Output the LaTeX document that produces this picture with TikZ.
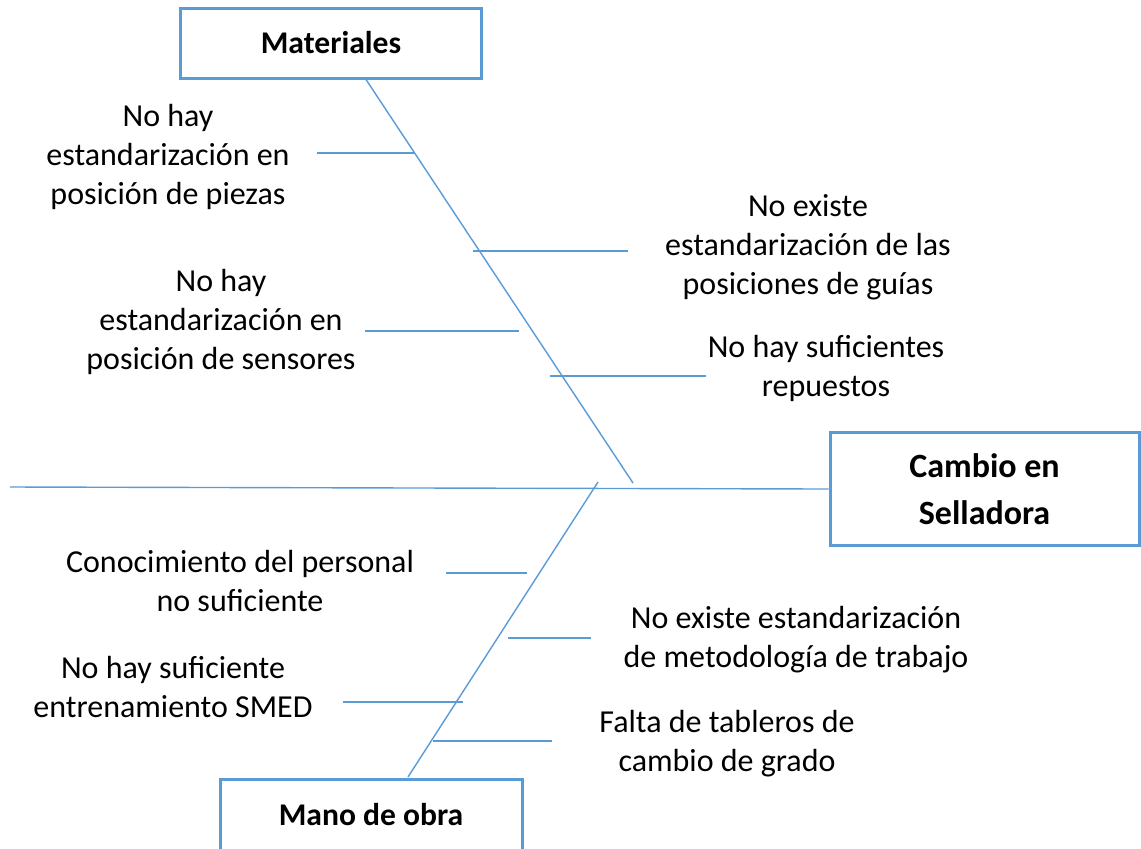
\documentclass[tikz,border=0pt]{standalone}
\usepackage{fontspec}
\setmainfont{Carlito}
\usetikzlibrary{positioning}
\definecolor{bonecolor}{RGB}{91,155,213}

\begin{document}
\begin{tikzpicture}[x=0.5pt, y=-0.5pt,
    cause/.style={align=center, inner sep=0pt, font=\fontsize{16pt}{19.5pt}\selectfont},
    catbox/.style={draw=bonecolor, line width=1.5pt, minimum width=150.5pt, minimum height=35pt, inner sep=0pt, font=\fontsize{15.8pt}{19.5pt}\bfseries\selectfont},
    boneline/.style={draw=bonecolor, line width=0.7pt}]
    \useasboundingbox (0,0) rectangle (1141,848);

    % boxes
    \node[catbox] (mat) at (331,43) {Materiales};
    \node[catbox, minimum width=154.5pt, minimum height=56.5pt, align=center,
          font=\fontsize{17pt}{23.5pt}\bfseries\selectfont] (eff) at (984.5,489) {Cambio en\\Selladora};
    \node[catbox, minimum width=151pt, minimum height=35.5pt] (mano) at (371,814.5) {Mano de obra};

    % spine and main bones
    \coordinate (tail) at (10,487);
    \coordinate (mtop) at (365,78);
    \coordinate (mend) at (633,483);
    \coordinate (lbot) at (408,777);
    \coordinate (lend) at (598,482);
    \draw[boneline] (tail) -- (eff.west);
    \draw[boneline] (mtop) -- (mend);
    \draw[boneline] (lbot) -- (lend);

    % causes, materiales
    \coordinate (a1) at (317,153); \coordinate (a2) at (415,153);
    \coordinate (b1) at (473,251); \coordinate (b2) at (628,251);
    \coordinate (c1) at (365,331); \coordinate (c2) at (519,331);
    \coordinate (d1) at (550,376); \coordinate (d2) at (706,376);
    \draw[boneline] (a1) -- (a2);
    \draw[boneline] (b1) -- (b2);
    \draw[boneline] (c1) -- (c2);
    \draw[boneline] (d1) -- (d2);
    \node[cause] (ta) at (168,157) {No hay\\estandarización en\\posición de piezas};
    \node[cause] (tb) at (808,247) {No existe\\estandarización de las\\posiciones de guías};
    \node[cause] (tc) at (221,322) {No hay\\estandarización en\\posición de sensores};
    \node[cause] (td) at (826,368) {No hay suficientes\\repuestos};

    % causes, mano de obra
    \coordinate (e1) at (446,573); \coordinate (e2) at (527,573);
    \coordinate (f1) at (508,638); \coordinate (f2) at (591,638);
    \coordinate (g1) at (343,702); \coordinate (g2) at (463,702);
    \coordinate (h1) at (433,741); \coordinate (h2) at (552,741);
    \draw[boneline] (e1) -- (e2);
    \draw[boneline] (f1) -- (f2);
    \draw[boneline] (g1) -- (g2);
    \draw[boneline] (h1) -- (h2);
    \node[cause] (te) at (240,581) {Conocimiento del personal\\no suficiente};
    \node[cause] (tf) at (796,640) {No existe estandarización\\de metodología de trabajo};
    \node[cause] (tg) at (173,687) {No hay suficiente\\entrenamiento SMED};
    \node[cause] (th) at (727,744) {Falta de tableros de\\cambio de grado};
\end{tikzpicture}
\end{document}
